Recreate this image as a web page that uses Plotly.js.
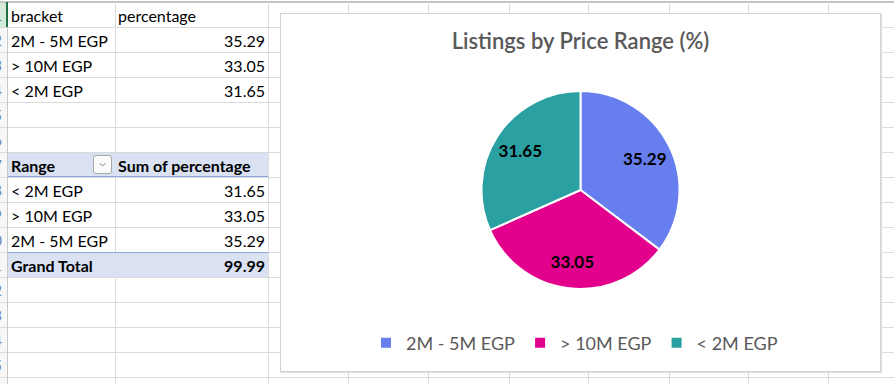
<!DOCTYPE html>
<html><head><meta charset="utf-8">
<script src="https://cdn.plot.ly/plotly-3.0.1.min.js"></script>
<style>
body{margin:0;width:894px;height:384px;overflow:hidden;background:#fff;font-family:Lato,sans-serif;position:relative}
.l{position:absolute;background:#dadada}
.c{position:absolute;height:25px;line-height:25px;font-size:16px;color:#000;white-space:nowrap;overflow:hidden}
.b{font-weight:bold}
</style></head><body>
<div id="sheet"></div>
<div id="box" style="position:absolute;left:280px;top:13px;width:599px;height:357px;border:1px solid #d2d2d2;box-shadow:1px 1px 1px #e2e2e2;background:#fff"></div>
<div id="chart" style="position:absolute;left:281px;top:14px;width:599px;height:357px"></div>
<script>
// ---- data ----
const headerBracket = "bracket";
const headerPercentage = "percentage";
const brackets = ["2M - 5M EGP", "> 10M EGP", "< 2M EGP"];
const percentages = [35.29, 33.05, 31.65];
const pivotHeader = ["Range", "Sum of percentage"];
const pivotRanges = ["< 2M EGP", "> 10M EGP", "2M - 5M EGP"];
const grandTotalLabel = "Grand Total";
const chartTitle = "Listings by Price Range (%)";

// ---- styles ----
const sliceColors = ["#667eee", "#e3008c", "#2aa0a3"];
const colEdges = [7, 115, 268, 348, 428, 509, 588, 669, 748, 828];
const rowH = 25, top0 = 2;

const sheet = document.getElementById('sheet');
function el(cls, css, txt){const d=document.createElement('div');d.className=cls;d.style.cssText=css;if(txt!==undefined)d.textContent=txt;sheet.appendChild(d);return d;}
function rowTop(r){return top0 + rowH*(r-1);}

// row header column
el('', 'position:absolute;left:0;top:'+top0+'px;width:7px;height:400px;background:#f7f7f7');
el('', 'position:absolute;left:0;top:'+top0+'px;width:7px;height:25px;background:#d5eadb');
// pivot backgrounds
el('', 'position:absolute;left:8px;top:'+rowTop(7)+'px;width:260px;height:25px;background:#d9e1f2');
el('', 'position:absolute;left:8px;top:'+rowTop(11)+'px;width:260px;height:25px;background:#d9e1f2');
// horizontal lines
for(let k=1;k<=15;k++){
  const y = top0 + rowH*k;
  el('l','left:0;top:'+y+'px;width:894px;height:1px');
}
el('l','left:0;top:1px;width:894px;height:2px;background:#c4c4c4');
// vertical lines
colEdges.forEach((x,i)=>{
  if(i===1){
    el('l','left:'+x+'px;top:2px;width:1px;height:'+(rowTop(7)-2)+'px');
    el('l','left:'+x+'px;top:'+rowTop(8)+'px;width:1px;height:'+(rowH*3)+'px');
    el('l','left:'+x+'px;top:'+rowTop(12)+'px;width:1px;height:200px');
  } else {
    el('l','left:'+x+'px;top:2px;width:1px;height:384px;background:'+(i===0?'#c8c8c8':'#dadada'));
  }
});
// pivot borders
el('', 'position:absolute;left:8px;top:'+(rowTop(8)-1)+'px;width:260px;height:1px;background:#8ea9db');
el('', 'position:absolute;left:8px;top:'+rowTop(11)+'px;width:260px;height:1px;background:#8ea9db');

// row numbers (clipped at the window edge, as in the reference)
for(let r=1;r<=15;r++){
  el('c','left:-33px;top:'+(rowTop(r)+1)+'px;width:35px;text-align:right;font-size:15px;color:'+(r===1?'#1e7145':'#6a86b0'), String(r));
}
el('', 'position:absolute;left:6px;top:2px;width:2px;height:25px;background:#1e7145');

function cellL(r, x, txt, bold){el('c'+(bold?' b':''),'left:'+(x+4)+'px;top:'+(rowTop(r)+1)+'px', txt);}
function cellR(r, xr, txt, bold){el('c'+(bold?' b':''),'left:'+(xr-120)+'px;width:117px;text-align:right;top:'+(rowTop(r)+1)+'px', txt);}

cellL(1, 7, headerBracket);
el('c','left:118px;top:'+(rowTop(1)+1)+'px', headerPercentage);
brackets.forEach((b,i)=>{cellL(2+i, 7, b); cellR(2+i, 268, percentages[i].toFixed(2));});

cellL(7, 7, pivotHeader[0], true);
el('c b','left:118px;top:'+(rowTop(7)+1)+'px', pivotHeader[1]);
// dropdown button
const btn = el('', 'position:absolute;left:93px;top:'+(rowTop(7)+3)+'px;width:19px;height:19px;border:1px solid #a8a8a8;border-radius:3px;background:#fbfbfb;box-sizing:border-box');
btn.innerHTML = '<svg width="17" height="17" style="position:absolute;left:0;top:0"><path d="M5.5,7 L8.5,10 L11.5,7" fill="none" stroke="#808080" stroke-width="1"/></svg>';
let total = 0;
pivotRanges.forEach((rg,i)=>{
  const v = percentages[brackets.indexOf(rg)];
  total += v;
  cellL(8+i, 7, rg); cellR(8+i, 268, v.toFixed(2));
});
cellL(11, 7, grandTotalLabel, true);
cellR(11, 268, total.toFixed(2), true);

// ---- chart ----
const W = 599, H = 357;
const dom = {x:[0.3347,0.6653], y:[0.2297,0.7843]};
const data = [{
  type:'pie', labels:brackets, values:percentages, sort:false, direction:'clockwise', rotation:0,
  marker:{colors:sliceColors, line:{color:'#ffffff', width:2}},
  textinfo:'none', domain:dom, hoverinfo:'none'
},{
  // transparent ring that carries the value labels further out, like Excel
  type:'pie', labels:brackets, values:percentages, sort:false, direction:'clockwise', rotation:0,
  hole:0.45, showlegend:false,
  marker:{colors:['rgba(0,0,0,0)','rgba(0,0,0,0)','rgba(0,0,0,0)'], line:{width:0}},
  texttemplate:'%{value:.2f}', textposition:'inside', insidetextorientation:'horizontal',
  textfont:{family:'Lato, sans-serif', size:17, color:'#000000', weight:'bold'},
  domain:dom, hoverinfo:'none'
}];
const layout = {
  width:W, height:H, margin:{l:0,r:0,t:0,b:0},
  paper_bgcolor:'rgba(0,0,0,0)', plot_bgcolor:'rgba(0,0,0,0)',
  showlegend:true,
  title:{text:chartTitle, font:{family:'Lato, sans-serif', size:22, color:'#595959', weight:600}, x:0.5, xanchor:'center', y:1-27/H, yanchor:'middle'},
  legend:{orientation:'h', x:0.49, xanchor:'center', y:28/H, yanchor:'middle', traceorder:'normal',
    font:{family:'Lato, sans-serif', size:18, color:'#595959'}}
};
Plotly.newPlot('chart', data, layout, {displayModeBar:false, staticPlot:true});
</script>
</body></html>
